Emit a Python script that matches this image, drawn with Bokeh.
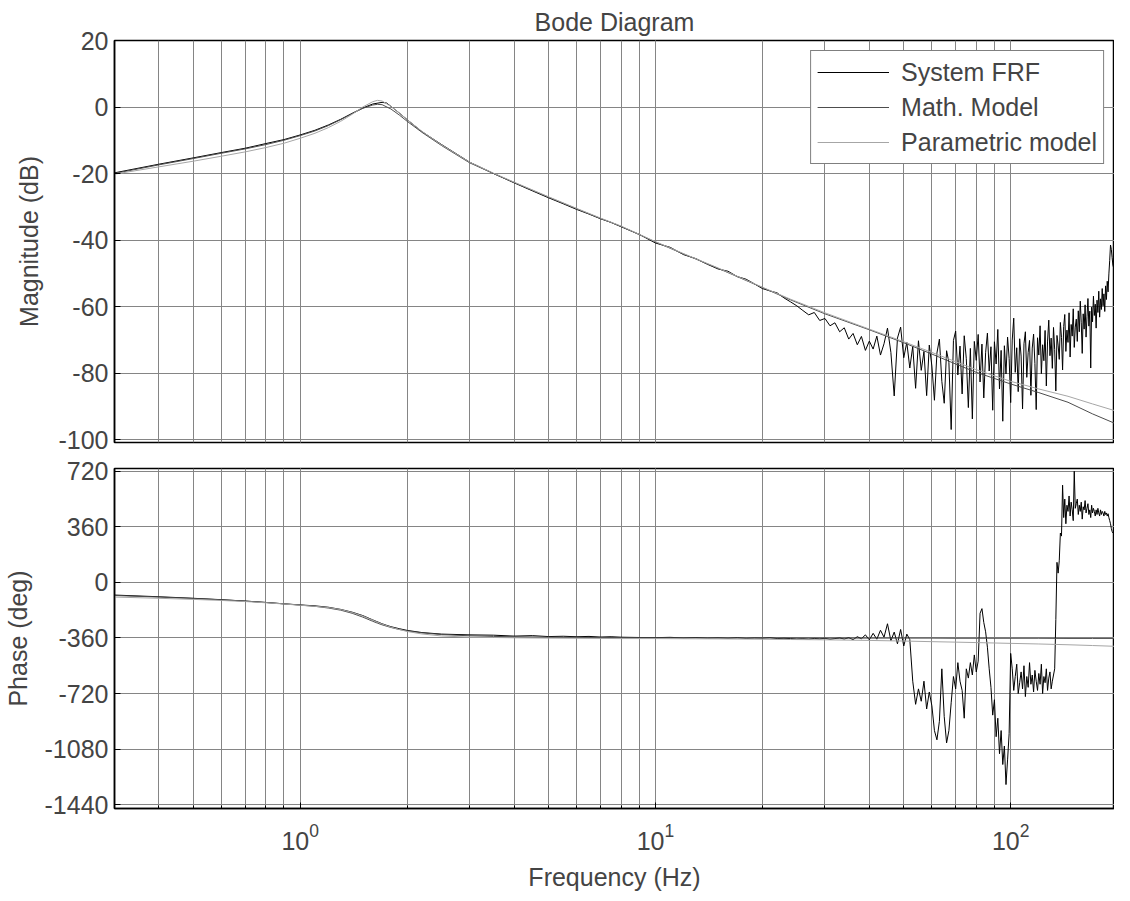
from bokeh.plotting import figure
from bokeh.layouts import column
from bokeh.models import Range1d, FixedTicker, Legend, LegendItem, CustomJSTickFormatter
from bokeh.embed import file_html
from bokeh.resources import INLINE

FONT = "Liberation Sans"

# ---------------- data ----------------
# smooth model curves
f_model = [0.3, 0.4, 0.5, 0.6, 0.7, 0.8, 0.9, 1.0, 1.1, 1.2, 1.3, 1.4, 1.5, 1.6, 1.65, 1.7, 1.8, 1.9,
           2.0, 2.2, 2.5, 3.0, 3.5, 4.0, 5.0, 6.0, 7.0, 8.0, 10, 12, 15, 20, 24, 30, 40, 50, 60, 70,
           80, 100, 120, 145, 170, 196]
mag_math = [-20.0, -17.4, -15.5, -13.9, -12.6, -11.3, -10.0, -8.6, -7.2, -5.6, -3.8, -2.0, -0.4, 0.6, 0.8,
            0.7, -0.6, -2.4, -4.3, -7.6, -11.6, -16.8, -20.0, -22.7, -27.1, -30.6, -33.5, -35.9, -40.6,
            -44.2, -48.5, -54.3, -58.0, -62.2, -67.0, -70.9, -74.3, -77.3, -79.8, -83.3, -85.9, -88.8,
            -92.3, -95.1]
mag_param = [-20.2, -18.0, -16.3, -14.8, -13.5, -12.2, -10.9, -9.4, -7.9, -6.2, -4.3, -2.2, 0.0, 1.6, 2.0,
             1.8, 0.2, -1.8, -3.8, -7.3, -11.4, -16.6, -19.9, -22.6, -27.0, -30.5, -33.4, -35.8, -40.5,
             -44.1, -48.4, -54.2, -57.8, -61.9, -66.8, -70.6, -73.8, -76.6, -79.0, -82.5, -84.8, -87.0,
             -89.3, -91.3]
ph_math = [-85, -95, -104, -113, -121, -130, -139, -147, -155, -166, -180, -200, -225, -252, -264, -275,
           -292, -305, -314, -327, -338, -346, -350, -352, -355, -356, -357, -358, -359, -359, -360,
           -360, -360, -361, -361, -361, -361, -362, -362, -362, -362, -363, -363, -363]
ph_param = [-95, -103, -110, -117, -124, -132, -140, -148, -155, -163, -176, -195, -218, -245, -258, -270,
            -290, -305, -318, -334, -347, -355, -357, -359, -361, -362, -363, -364, -364, -365, -366,
            -368, -370, -372, -376, -380, -384, -387, -390, -395, -399, -404, -409, -414]

# measured FRF: smooth low-frequency part
f_frf_lo = [0.3, 0.4, 0.5, 0.6, 0.7, 0.8, 0.9, 1.0, 1.1, 1.2, 1.3, 1.4, 1.5, 1.6, 1.7, 1.75, 1.8, 1.9,
            2.0, 2.2, 2.5, 3.0, 3.5, 4.0, 4.5, 5.0, 5.5, 6.0, 6.5, 7.0, 7.5, 8.0, 9.0, 10, 11, 12, 13,
            14, 15, 16, 17, 18, 19, 20, 21, 22, 23]
mag_frf_lo = [-19.8, -17.2, -15.3, -13.7, -12.4, -11.0, -9.8, -8.4, -7.0, -5.4, -3.7, -1.9, -0.3, 0.9,
              1.4, 1.2, 0.2, -1.8, -3.8, -7.4, -11.3, -16.6, -20.0, -22.8, -25.2, -27.3, -29.1, -30.8,
              -32.2, -33.6, -34.7, -36.0, -38.3, -40.9, -42.2, -44.4, -45.6, -47.3, -48.7, -49.4, -51.0,
              -51.8, -53.2, -54.6, -55.3, -55.9, -57.4]
ph_frf_lo = [-82, -93, -103, -112, -121, -130, -139, -146, -152, -161, -175, -193, -215, -243, -268, -278,
             -287, -300, -311, -325, -335, -340, -342, -348, -345, -351, -349, -352, -350, -354, -352,
             -355, -357, -358, -356, -360, -357, -361, -359, -362, -358, -363, -360, -361, -358, -364,
             -362]

# measured FRF: noisy high-frequency part (1 Hz spacing)
f_frf_hi = [24, 25, 26, 27, 28, 29, 30, 31, 32, 33, 34, 35, 36, 37, 38, 39, 40, 41, 42, 43,
            44, 45, 46, 47, 48, 49, 50, 51, 52, 53, 54, 55, 56, 57, 58, 59, 60, 61, 62, 63,
            64, 65, 66, 67, 68, 69, 70, 71, 72, 73, 74, 75, 76, 77, 78, 79, 80, 81, 82, 83,
            84, 85, 86, 87, 88, 89, 90, 91, 92, 93, 94, 95, 96, 97, 98, 99, 100, 101, 102, 103,
            104, 105, 106, 107, 108, 109, 110, 111, 112, 113, 114, 115, 116, 117, 118, 119, 120, 121, 122, 123,
            124, 125, 126, 127, 128, 129, 130, 131, 132, 133, 134, 135, 136, 137, 138, 139, 140, 141, 142, 143,
            144, 145, 146, 147, 148, 149, 150, 151, 152, 153, 154, 155, 156, 157, 158, 159, 160, 161, 162, 163,
            164, 165, 166, 167, 168, 169, 170, 171, 172, 173, 174, 175, 176, 177, 178, 179, 180, 181, 182, 183,
            184, 185, 186, 187, 188, 189, 190, 191, 192, 193, 194, 195, 196]
mag_frf_hi = [-58.6, -59.8, -61.2, -62.5, -61.8, -64.2, -63.6, -65.8, -64.9, -67.6,
              -66.4, -69.8, -68.1, -71.5, -69.0, -73.2, -70.4, -72.8, -68.9, -74.6,
              -71.2, -66.5, -73.8, -86.9, -69.5, -66.2, -75.4, -70.8, -78.5, -72.0,
              -84.6, -70.3, -79.2, -73.5, -86.8, -71.6, -77.9, -88.2, -74.0, -69.8,
              -82.5, -89.1, -73.3, -76.8, -97.0, -70.2, -67.4, -80.6, -71.9, -86.3,
              -68.8, -75.7, -90.4, -72.6, -93.8, -70.5, -76.2, -68.4, -82.7, -71.3,
              -87.5, -73.9, -68.0, -79.4, -72.1, -91.2, -70.6, -77.3, -66.9, -84.8,
              -73.2, -94.5, -71.8, -80.3, -69.2, -75.6, -88.9, -70.1, -63.5, -79.8,
              -72.4, -85.6, -69.7, -74.9, -90.8, -71.2, -67.6, -81.3, -73.8, -70.2,
              -86.7, -72.5, -68.3, -77.1, -91.0, -69.4, -74.6, -65.8, -80.2, -71.5,
              -76.3, -67.2, -83.9, -70.4, -64.1, -74.8, -69.5, -78.6, -66.3, -72.9,
              -85.4, -68.7, -71.6, -75.9, -64.8, -69.3, -79.1, -66.0, -62.4, -73.5,
              -67.1, -70.8, -61.9, -75.2, -65.4, -68.9, -60.7, -72.3, -66.2, -63.8,
              -70.5, -61.3, -67.6, -58.4, -64.9, -74.1, -62.2, -66.8, -59.5, -69.2,
              -63.1, -57.6, -65.9, -61.4, -78.5, -60.2, -64.6, -56.9, -62.7, -59.3,
              -66.5, -58.1, -61.8, -55.4, -63.2, -57.7, -60.9, -54.6, -59.8, -56.2,
              -61.5, -53.8, -57.9, -52.4, -55.6, -50.2, -46.1, -41.5, -42.8, -45.3,
              -47.6, -48.4, -49.2]
ph_frf_hi = [-364, -367, -365, -368, -363, -366, -362, -369, -364, -360,
             -367, -358, -371, -352, -365, -340, -372, -330, -368, -310,
             -355, -268, -378, -322, -398, -305, -412, -335, -370, -640,
             -790, -690, -770, -640, -820, -710, -800, -960, -1020, -900,
             -560, -870, -1040, -960, -780, -610, -690, -520, -640, -700,
             -880, -560, -620, -520, -600, -470, -580, -510, -200, -170,
             -260, -320, -420, -560, -680, -860, -760, -1000, -880, -1110,
             -960, -1180, -1060, -1310, -1150, -980, -460, -560, -700, -610,
             -530, -720, -650, -580, -690, -540, -740, -610, -680, -520,
             -660, -600, -710, -570, -640, -700, -590, -660, -530, -720,
             -610, -650, -560, -700, -620, -580, -690, -640, -600, -560,
             -240, 130, 60, 140, 320, 300, 630, 420, 540, 380,
             500, 460, 560, 430, 520, 470, 400, 720, 480, 510,
             540, 440, 500, 460, 520, 410, 490, 470, 530, 450,
             480, 510, 440, 470, 420, 500, 450, 480, 460, 430,
             470, 440, 480, 450, 430, 470, 440, 460, 450, 430,
             460, 440, 450, 430, 445, 420, 400, 380, 350, 330,
             320, 315, 310]

mag_ticks = [-100, -80, -60, -40, -20, 0, 20]
phase_ticks = [-1440, -1080, -720, -360, 0, 360, 720]

f_frf = f_frf_lo + f_frf_hi
mag_frf = mag_frf_lo + mag_frf_hi
ph_frf = ph_frf_lo + ph_frf_hi

# ---------------- styling ----------------
GRID = "#858585"
C_FRF = "#000000"
C_MATH = "#4d4d4d"
C_PARAM = "#a6a6a6"

x_range = Range1d(0.3, 196)
int_fmt = CustomJSTickFormatter(code="return tick.toFixed(0);")


def style(p, ticks, label, label_standoff):
    p.outline_line_color = "black"
    p.outline_line_width = 1.5
    p.yaxis.ticker = FixedTicker(ticks=ticks)
    p.yaxis.formatter = int_fmt
    p.yaxis.axis_label = label
    p.yaxis.axis_label_text_font = FONT
    p.yaxis.axis_label_text_font_size = "25px"
    p.yaxis.axis_label_text_font_style = "normal"
    p.yaxis.axis_label_standoff = label_standoff
    p.yaxis.major_label_text_font = FONT
    p.yaxis.major_label_text_font_size = "25px"
    p.yaxis.major_label_standoff = 6
    p.yaxis.major_tick_in = 6
    p.yaxis.major_tick_out = 0
    p.yaxis.axis_line_width = 1.5
    p.yaxis.axis_line_color = "black"
    p.xgrid.grid_line_color = GRID
    p.xgrid.minor_grid_line_color = GRID
    p.ygrid.grid_line_color = GRID
    p.xgrid.grid_line_width = 1
    p.ygrid.grid_line_width = 1


p1 = figure(width=1114, height=455, x_axis_type="log", x_range=x_range,
            y_range=Range1d(-100.9, 20), output_backend="svg", toolbar_location=None,
            min_border_left=112, min_border_right=0, min_border_top=40, min_border_bottom=13,
            title="Bode Diagram")
p1.title.align = "center"
p1.title.text_font = FONT
p1.title.text_font_size = "25px"
p1.title.text_font_style = "normal"
p1.title.standoff = 9
style(p1, mag_ticks, "Magnitude (dB)", 12)
p1.xaxis.visible = False

r_frf = p1.line(f_frf, mag_frf, line_color=C_FRF, line_width=1)
r_math = p1.line(f_model, mag_math, line_color=C_MATH, line_width=1)
r_param = p1.line(f_model, mag_param, line_color=C_PARAM, line_width=1)

legend = Legend(items=[LegendItem(label="System FRF", renderers=[r_frf]),
                       LegendItem(label="Math. Model", renderers=[r_math]),
                       LegendItem(label="Parametric model", renderers=[r_param])],
                location="top_right", border_line_color="black", border_line_width=1,
                label_text_font=FONT, label_text_font_size="25px",
                glyph_width=72, glyph_height=30, label_height=30, spacing=5,
                padding=6, margin=10, label_standoff=12, background_fill_color="white",
                background_fill_alpha=1)
p1.add_layout(legend)

p2 = figure(width=1114, height=438, x_axis_type="log", x_range=x_range,
            y_range=Range1d(-1465, 738), output_backend="svg", toolbar_location=None,
            min_border_left=112, min_border_right=0, min_border_top=13, min_border_bottom=73)
style(p2, phase_ticks, "Phase (deg)", 10)
p2.xaxis.axis_label = "Frequency (Hz)"
p2.xaxis.axis_label_text_font = FONT
p2.xaxis.axis_label_text_font_size = "25px"
p2.xaxis.axis_label_text_font_style = "normal"
p2.xaxis.axis_label_standoff = 10
p2.xaxis.major_label_text_font = FONT
p2.xaxis.major_label_text_font_size = "25px"
p2.xaxis.major_label_standoff = 14
p2.xaxis.major_tick_in = 6
p2.xaxis.major_tick_out = 0
p2.xaxis.minor_tick_in = 3
p2.xaxis.minor_tick_out = 0
p2.xaxis.axis_line_width = 1.5
p2.xaxis.axis_line_color = "black"

p2.line(f_frf, ph_frf, line_color=C_FRF, line_width=1)
p2.line(f_model, ph_math, line_color=C_MATH, line_width=1)
p2.line(f_model, ph_param, line_color=C_PARAM, line_width=1)

layout = column(p1, p2, spacing=0)
open("out.html", "w").write(file_html(layout, INLINE))
